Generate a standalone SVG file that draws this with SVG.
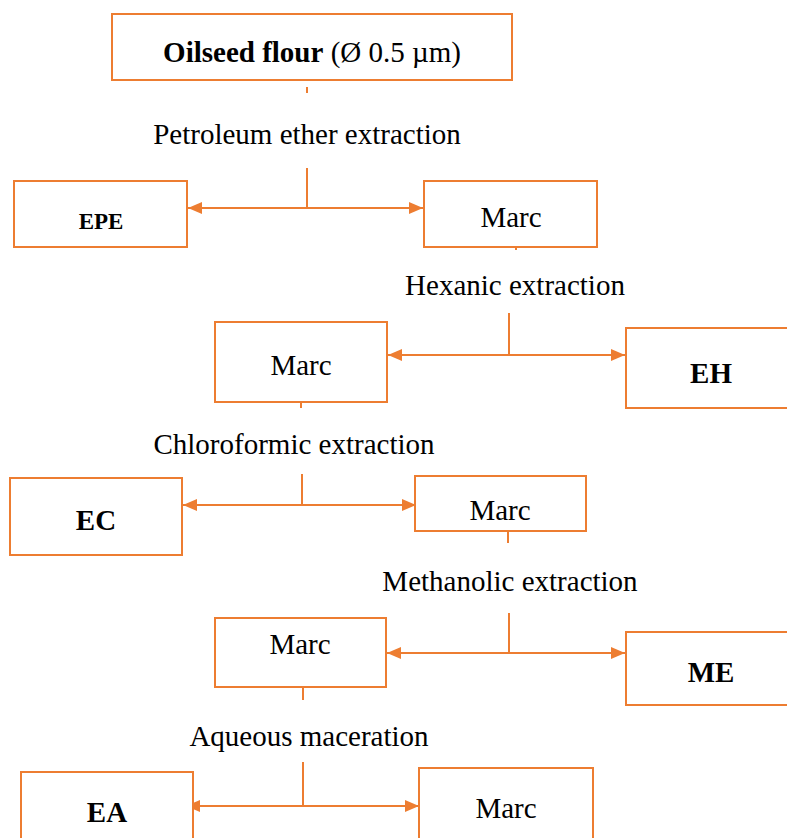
<svg xmlns="http://www.w3.org/2000/svg" width="787" height="838" viewBox="0 0 787 838">
<style>
.box{fill:#fff;stroke:#ED7D31;stroke-width:2}
.ln{fill:none;stroke:#ED7D31;stroke-width:2}
.t{font-family:"Liberation Serif","Times New Roman",serif;font-size:29px;fill:#000;text-anchor:middle}
.b{font-weight:bold}
</style>
<defs>
<marker id="ah" viewBox="0 0 14 12" refX="14" refY="6" markerWidth="14" markerHeight="12" markerUnits="userSpaceOnUse" orient="auto-start-reverse">
<path d="M0,0 L14,6 L0,12 z" fill="#ED7D31"/>
</marker>
</defs>
<rect width="787" height="838" fill="#fff"/>
<g id="connectors">
<line class="ln" x1="307" y1="87" x2="307" y2="93"/>
<line class="ln" x1="307" y1="168" x2="307" y2="208"/>
<line class="ln" x1="188" y1="208" x2="423" y2="208" marker-start="url(#ah)" marker-end="url(#ah)"/>
<line class="ln" x1="516" y1="247" x2="516" y2="250"/>
<line class="ln" x1="509" y1="313" x2="509" y2="355"/>
<line class="ln" x1="388" y1="355" x2="625" y2="355" marker-start="url(#ah)" marker-end="url(#ah)"/>
<line class="ln" x1="301" y1="402" x2="301" y2="408"/>
<line class="ln" x1="302" y1="474" x2="302" y2="505"/>
<line class="ln" x1="183" y1="505" x2="416" y2="505" marker-start="url(#ah)" marker-end="url(#ah)"/>
<line class="ln" x1="508" y1="531" x2="508" y2="543"/>
<line class="ln" x1="509" y1="613" x2="509" y2="653"/>
<line class="ln" x1="387" y1="653" x2="625" y2="653" marker-start="url(#ah)" marker-end="url(#ah)"/>
<line class="ln" x1="303" y1="687" x2="303" y2="700"/>
<line class="ln" x1="303" y1="762" x2="303" y2="806"/>
<line class="ln" x1="186" y1="806" x2="419" y2="806" marker-start="url(#ah)" marker-end="url(#ah)"/>
</g>
<g id="oilseed"><rect class="box" x="112" y="14" width="400" height="66"/>
<text class="t" x="312" y="62"><tspan class="b">Oilseed flour</tspan> (Ø 0.5 µm)</text></g>
<text class="t" x="307" y="144">Petroleum ether extraction</text>
<g id="epe"><rect class="box" x="14" y="181" width="173" height="66"/><text class="t b" x="101" y="229" style="font-size:23px">EPE</text></g>
<g id="marc1"><rect class="box" x="424" y="181" width="173" height="66"/><text class="t" x="511" y="227">Marc</text></g>
<text class="t" x="515" y="295">Hexanic extraction</text>
<g id="marc2"><rect class="box" x="215" y="322" width="172" height="80"/><text class="t" x="301" y="375">Marc</text></g>
<g id="eh"><rect class="box" x="626" y="328" width="162" height="80"/><text class="t b" x="711" y="383">EH</text></g>
<text class="t" x="294" y="454">Chloroformic extraction</text>
<g id="ec"><rect class="box" x="10" y="478" width="172" height="77"/><text class="t b" x="96" y="530">EC</text></g>
<g id="marc3"><rect class="box" x="415" y="476" width="171" height="55"/><text class="t" x="500" y="520">Marc</text></g>
<text class="t" x="510" y="591">Methanolic extraction</text>
<g id="marc4"><rect class="box" x="215" y="618" width="171" height="69"/><text class="t" x="300" y="654">Marc</text></g>
<g id="me"><rect class="box" x="626" y="632" width="162" height="73"/><text class="t b" x="711" y="682">ME</text></g>
<text class="t" x="309" y="746">Aqueous maceration</text>
<g id="ea"><rect class="box" x="21" y="772" width="172" height="80"/><text class="t b" x="107" y="822">EA</text></g>
<g id="marc5"><rect class="box" x="419" y="768" width="174" height="84"/><text class="t" x="506" y="818">Marc</text></g>
</svg>
